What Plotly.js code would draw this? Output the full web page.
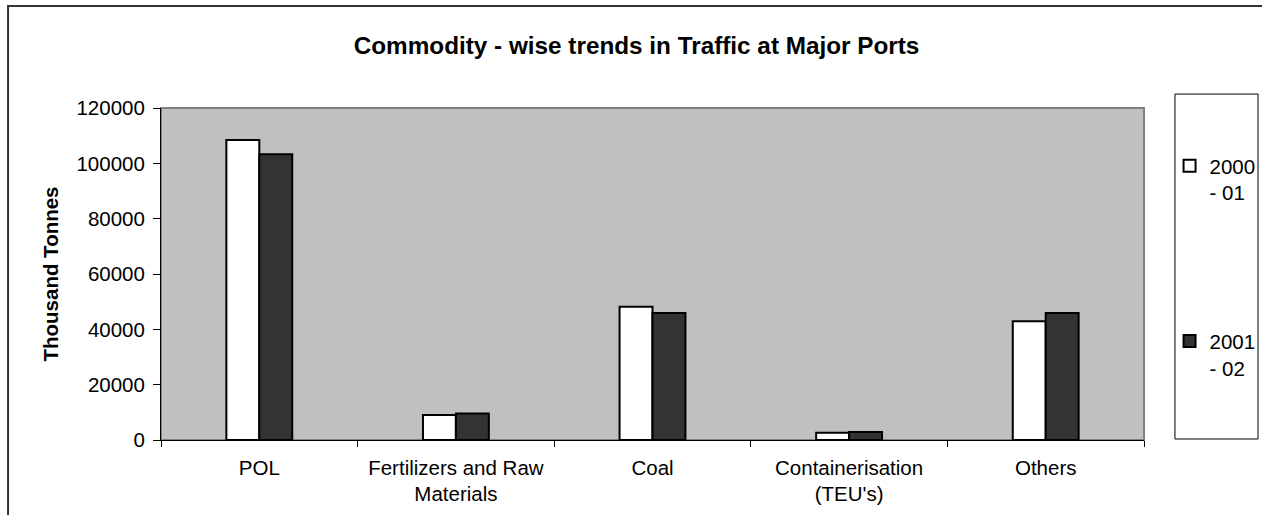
<!DOCTYPE html>
<html>
<head>
<meta charset="utf-8">
<script src="https://cdn.plot.ly/plotly-3.0.1.min.js"></script>
<style>
  body { margin: 0; background: #fff; }
  #graph { width: 1262px; height: 515px; }
</style>
</head>
<body>
<div id="graph"></div>
<script>
// data (thousand tonnes)
var commodities = ['POL', 'Fertilizers and Raw<br>Materials', 'Coal', 'Containerisation<br>(TEU\'s)', 'Others'];
var year1Name = '2000<br>- 01';
var year2Name = '2001<br>- 02';
var year1 = [108400, 9000, 48200, 2600, 42900];
var year2 = [103300, 9600, 45900, 2900, 45900];
var yTicks = [0, 20000, 40000, 60000, 80000, 100000, 120000];

var traces = [
    {
        type: 'bar',
        name: year1Name,
        legendgroup: 'a',
        x: commodities,
        y: year1,
        marker: {color: '#ffffff', line: {color: '#000000', width: 2}}
    },
    {
        type: 'bar',
        name: year2Name,
        legendgroup: 'b',
        x: commodities,
        y: year2,
        marker: {color: '#333333', line: {color: '#000000', width: 2}}
    }
];

var layout = {
    width: 1262,
    height: 515,
    margin: {l: 161, r: 118, t: 108, b: 75, autoexpand: false},
    paper_bgcolor: '#ffffff',
    plot_bgcolor: '#c0c0c0',
    font: {family: 'Liberation Sans, Arial, sans-serif', size: 20.5, color: '#000000'},
    title: {
        text: '<b>Commodity - wise trends in Traffic at Major Ports</b>',
        font: {size: 24.3},
        xref: 'container', x: 0.5044,
        yref: 'container', y: 0.911, yanchor: 'middle'
    },
    bargap: 0.665,
    bargroupgap: 0,
    showlegend: true,
    legend: {
        x: 1.026, xanchor: 'left',
        y: 0.886, yanchor: 'top',
        traceorder: 'grouped',
        tracegroupgap: 119,
        valign: 'top',
        bgcolor: 'rgba(0,0,0,0)',
        borderwidth: 0,
        font: {size: 20.5},
        itemwidth: 30
    },
    xaxis: {
        type: 'category',
        showgrid: false,
        showline: true,
        linecolor: '#000000',
        linewidth: 1,
        ticks: 'outside',
        tickson: 'boundaries',
        ticklen: 6,
        tickcolor: '#000000',
        ticklabelstandoff: 9,
        tickfont: {size: 20.5}
    },
    yaxis: {
        range: [0, 120000],
        tickvals: yTicks,
        ticktext: yTicks.map(String),
        showgrid: false,
        zeroline: false,
        showline: true,
        linecolor: '#000000',
        linewidth: 1,
        ticks: 'outside',
        ticklen: 7,
        tickcolor: '#000000',
        ticklabelstandoff: 4,
        tickfont: {size: 20.5},
        title: {text: '<b>Thousand Tonnes</b>', font: {size: 20.5}, standoff: 12}
    },
    shapes: [
        // plot area frame (top/right in grey)
        {type: 'rect', xref: 'paper', yref: 'paper', x0: 0, x1: 1, y0: 0, y1: 1,
         line: {color: '#808080', width: 2}, layer: 'below'},
        // legend box
        {type: 'rect', xref: 'paper', yref: 'paper', x0: 1.0315, x1: 1.116, y0: 0.003, y1: 1.042,
         line: {color: '#000000', width: 1}},
        // outer chart border
        {type: 'rect', xref: 'paper', yref: 'paper', x0: -0.1556, x1: 1.15, y0: -0.3, y1: 1.307,
         line: {color: '#333333', width: 2}}
    ]
};

Plotly.newPlot('graph', traces, layout, {displayModeBar: false, staticPlot: true});
</script>
</body>
</html>
